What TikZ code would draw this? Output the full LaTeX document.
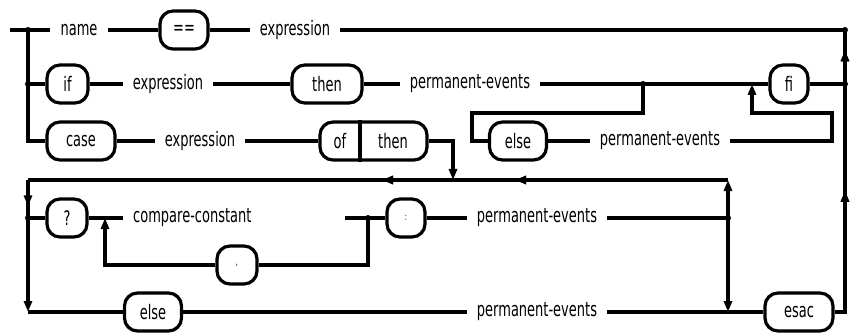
\documentclass[tikz,border=0pt]{standalone}
\usepackage{fontspec}
\setmainfont{DejaVu Sans}[FakeStretch=0.65]
\usetikzlibrary{arrows.meta,decorations.markings}
\begin{document}
\begin{tikzpicture}[x=1pt,y=-1pt,
  ln/.style={line width=3.2pt},
  tip/.style={-{Triangle[length=11pt,width=8pt]}},
  midtip/.style={postaction={decorate},decoration={markings,mark=at position #1 with {\arrow{Triangle[length=11pt,width=8pt]}}}},
  term/.style={draw,line width=3.2pt,rounded corners=13pt,minimum height=38pt,inner sep=0pt,font=\fontsize{20}{24}\selectfont},
  lbl/.style={inner ysep=0pt,inner xsep=10pt,font=\fontsize{20}{24}\selectfont},
  dot/.style={circle,fill,inner sep=0pt,minimum size=6pt}]
\useasboundingbox (0,0) rectangle (857,334);
% coordinates
\coordinate (start) at (10,30);
\coordinate (j1) at (28,30);
\coordinate (j2) at (28,84);
\coordinate (c3) at (28,141);
\coordinate (r4l) at (28,180);
\coordinate (jq) at (28,218);
\coordinate (r6l) at (28,312);
\coordinate (r1r) at (845,30);
\coordinate (r2r) at (845,84);
\coordinate (r6r) at (845,312);
\coordinate (j9) at (643,84);
\coordinate (e1) at (643,113);
\coordinate (e2) at (472,113);
\coordinate (e3) at (472,141);
\coordinate (f1) at (832,141);
\coordinate (f2) at (832,113);
\coordinate (f3) at (752,113);
\coordinate (f4) at (752,84);
\coordinate (d1) at (453,141);
\coordinate (d2) at (453,180);
\coordinate (r4r) at (728,180);
\coordinate (j7) at (728,218);
\coordinate (r6m) at (728,312);
\coordinate (ccend) at (345,218);
\coordinate (j8) at (368,218);
\coordinate (l1) at (368,265);
\coordinate (l2) at (105,265);
\coordinate (l3) at (105,218);
% row 1
\node[lbl] (name) at (79,30) {name};
\node[term,minimum width=48pt] (eq) at (184,30) {==};
\node[lbl] (expr1) at (295,30) {expression};
% row 2
\node[term,minimum width=41pt] (if) at (67.5,84) {if};
\node[lbl] (expr2) at (168,84) {expression};
\node[term,minimum width=70pt] (then) at (327,84) {then};
\node[lbl] (pe2) at (470,84) {permanent-events};
\node[term,minimum width=38pt] (fi) at (789,84) {fi};
% row 3
\node[term,minimum width=68pt] (case) at (81,141) {case};
\node[lbl] (expr3) at (200,141) {expression};
\node[term,minimum width=107pt] (ofthen) at (373.5,141) {};
\node[lbl,inner xsep=0pt] (of) at (340,141) {of};
\node[lbl,inner xsep=0pt] (then2) at (393,141) {then};
\draw[ln] (ofthen.north -| 360,0) -- (ofthen.south -| 360,0);
\node[term,minimum width=57pt] (else1) at (518,141) {else};
\node[lbl] (pe3) at (660,141) {permanent-events};
% row 5
\node[term,minimum width=40pt] (q) at (67,218) {?};
\node[lbl,anchor=west] (cc) at (123,218) {compare-constant};
\node[term,minimum width=38pt,font=\fontsize{10}{12}\selectfont] (colon) at (406,218) {:};
\node[lbl] (pe5) at (537,218) {permanent-events};
\node[term,minimum width=40pt,font=\fontsize{10}{12}\selectfont] (comma) at (237,265) {,};
% row 6
\node[term,minimum width=57pt] (else2) at (153,312) {else};
\node[lbl] (pe6) at (537,312) {permanent-events};
\node[term,minimum width=68pt] (esac) at (799,312) {esac};
% connectors row 1
\draw[ln] (start) -- (name.west);
\draw[ln] (name.east) -- (eq.west);
\draw[ln] (eq.east) -- (expr1.west);
\draw[ln] (expr1.east) -- (r1r);
\draw[ln] (j1) -- (c3) -- (case.west);
% row 2
\draw[ln] (j2) -- (if.west);
\draw[ln] (if.east) -- (expr2.west);
\draw[ln] (expr2.east) -- (then.west);
\draw[ln] (then.east) -- (pe2.west);
\draw[ln] (pe2.east) -- (fi.west);
\draw[ln] (fi.east) -- (r2r);
\draw[ln] (j9) -- (e1) -- (e2) -- (e3) -- (else1.west);
\draw[ln] (else1.east) -- (pe3.west);
\draw[ln,tip] (pe3.east) -- (f1) -- (f2) -- (f3) -- (f4);
% row 3
\draw[ln] (case.east) -- (expr3.west);
\draw[ln] (expr3.east) -- (ofthen.west);
\draw[ln,tip] (ofthen.east) -- (d1) -- (d2);
% row 4
\draw[ln,midtip=0.304,midtip=0.494] (r4r) -- (r4l);
\draw[ln,tip,midtip=0.2] (r4l) -- (r6l);
\draw[ln] (jq) -- (q.west);
% row 5
\draw[ln] (q.east) -- (cc.west);
\draw[ln] (ccend) -- (colon.west);
\draw[ln] (colon.east) -- (pe5.west);
\draw[ln] (pe5.east) -- (j7);
\draw[ln,tip] (j7) -- (r4r);
\draw[ln,tip] (j7) -- (r6m);
\draw[ln] (j8) -- (l1) -- (comma.east);
\draw[ln,tip] (comma.west) -- (l2) -- (l3);
% row 6
\draw[ln] (r6l) -- (else2.west);
\draw[ln] (else2.east) -- (pe6.west);
\draw[ln] (pe6.east) -- (esac.west);
\draw[ln,midtip=0.45,midtip=0.93] (esac.east) -- (r6r) -- (r1r);
% dots
\foreach \p in {j1,j2,jq,r1r,r2r,j9,j8,j7} \node[dot] at (\p) {};
\end{tikzpicture}
\end{document}
